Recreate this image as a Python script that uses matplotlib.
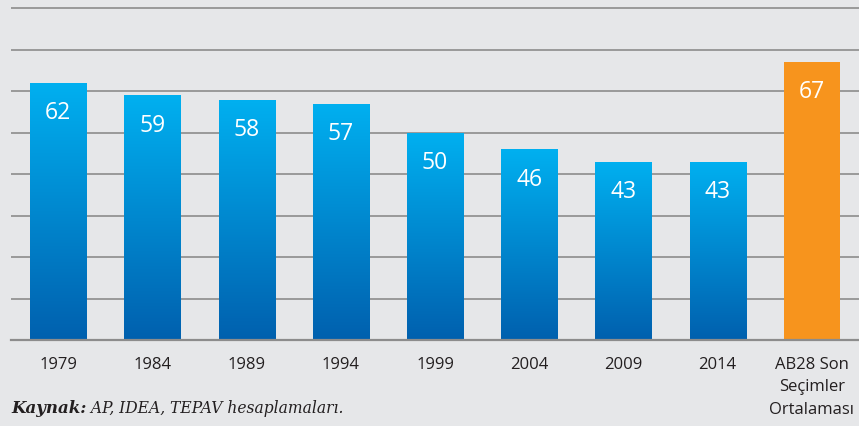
import numpy as np
import matplotlib.pyplot as plt
from matplotlib.colors import LinearSegmentedColormap

years = ["1979", "1984", "1989", "1994", "1999", "2004", "2009", "2014", "AB28 Son\nSeçimler\nOrtalaması"]
values = [62, 59, 58, 57, 50, 46, 43, 43, 67]
highlight = [False] * 8 + [True]

BG = "#e6e7e9"
GRID = "#8c8c8c"
ORANGE = "#f7941d"
TOP_BLUE = "#00b0f0"
BOTTOM_BLUE = "#0060ae"
TEXT = "#231f20"

plt.rcParams["font.family"] = ["Open Sans", "DejaVu Sans"]

fig = plt.figure(figsize=(8.59, 4.26), dpi=100)
fig.patch.set_facecolor(BG)
ax = fig.add_axes([11 / 859, 1 - 340 / 426, 848 / 859, 340 / 426])
ax.set_facecolor(BG)

x = np.arange(len(values))
ax.set_xlim(-0.5, len(values) - 0.5)
ax.set_ylim(0, 82)

for g in range(10, 90, 10):
    ax.axhline(g, color=GRID, lw=1.2, zorder=1)

bars = ax.bar(x, values, width=0.595, color=[ORANGE if h else "none" for h in highlight],
              zorder=2, linewidth=0)

# vertical gradient for the blue bars
grad = np.linspace(0, 1, 256).reshape(-1, 1)
cmap = LinearSegmentedColormap.from_list("blues", [BOTTOM_BLUE, TOP_BLUE])
for b, h in zip(bars, highlight):
    if h:
        continue
    x0, w, hgt = b.get_x(), b.get_width(), b.get_height()
    im = ax.imshow(grad, cmap=cmap, aspect="auto", origin="lower",
                   extent=[x0, x0 + w, 0, hgt], zorder=2)
    im.set_clip_path(b)

for xi, v in zip(x, values):
    ax.text(xi, v - 7.3, str(v), ha="center", va="center", color="white",
            fontsize=16.5, zorder=3)

ax.spines[["top", "right", "left"]].set_visible(False)
ax.spines["bottom"].set_color(GRID)
ax.spines["bottom"].set_linewidth(1.6)
ax.spines["bottom"].set_zorder(3)
ax.set_yticks([])
ax.set_xticks(x)
ax.set_xticklabels(years, fontsize=12, color=TEXT, linespacing=1.55, va="top")
ax.tick_params(axis="x", length=0, pad=12)

# source line: bold label followed by italic text
src = fig.text(11 / 859, 1 - 413 / 426, "Kaynak:", fontsize=12, family="DejaVu Serif",
               style="italic", weight="bold", color=TEXT, va="baseline")
ax.annotate(" AP, IDEA, TEPAV hesaplamaları.", xy=(1, 0), xycoords=src,
            fontsize=11.2, family="DejaVu Serif", style="italic", color=TEXT,
            va="bottom", ha="left", annotation_clip=False)

fig.savefig("out.png", dpi=100, facecolor=BG)
